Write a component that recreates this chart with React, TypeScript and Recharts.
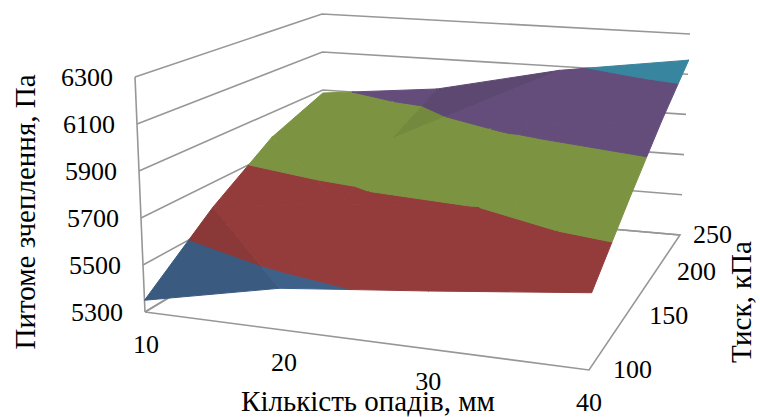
import React from "react";
import { ScatterChart, Scatter, XAxis, YAxis } from "recharts";

const rainfall = [10, 20, 30, 40];
const pressure = [100, 150, 200, 250];
const valueTicks = [5300, 5500, 5700, 5900, 6100, 6300];
const cohesionAt100 = [5350, 5470, 5530, 5596];
const cohesionAt150 = [5588, 5660, 5700, 5800];
const cohesionAt200 = [5778, 5820, 5925, 5995];
const cohesionAt250 = [5884, 5945, 6080, 6170];
const rows = [cohesionAt100, cohesionAt150, cohesionAt200, cohesionAt250];
const bandColors = ["#3e618a", "#943c3c", "#7c9342", "#644d7b", "#37859e"];

type P = [number, number];
const floorQuad: P[] = [[145, 312], [589, 370], [680, 235], [324, 204]];
const topQuad: P[] = [[135, 77], [598, 109], [690, 34], [322, 14]];

function homography(q: P[]) {
  const [[x0, y0], [x1, y1], [x2, y2], [x3, y3]] = q;
  const dx1 = x1 - x2, dx2 = x3 - x2, sx = x0 - x1 + x2 - x3;
  const dy1 = y1 - y2, dy2 = y3 - y2, sy = y0 - y1 + y2 - y3;
  const den = dx1 * dy2 - dx2 * dy1;
  const g = (sx * dy2 - dx2 * sy) / den;
  const h = (dx1 * sy - sx * dy1) / den;
  const a = x1 - x0 + g * x1, b = x3 - x0 + h * x3;
  const d = y1 - y0 + g * y1, e = y3 - y0 + h * y3;
  return (u: number, v: number): P => {
    const n = g * u + h * v + 1;
    return [(a * u + b * v + x0) / n, (d * u + e * v + y0) / n];
  };
}
const floorH = homography(floorQuad);
const topH = homography(topQuad);

const uOf = (r: number) => (r - 10) / 30;
const vOf = (p: number) => (p - 100) / 150;
const wOf = (c: number) => (c - 5300) / 1000;
function project(r: number, p: number, c: number) {
  const [fx, fy] = floorH(uOf(r), vOf(p));
  const [tx, ty] = topH(uOf(r), vOf(p));
  const w = wOf(c);
  return { x: fx + (tx - fx) * w, y: fy + (ty - fy) * w };
}

type V = { r: number; p: number; c: number };
function clip(poly: V[], level: number, keepAbove: boolean): V[] {
  const out: V[] = [];
  for (let i = 0; i < poly.length; i++) {
    const a = poly[i], b = poly[(i + 1) % poly.length];
    const ia = keepAbove ? a.c >= level : a.c <= level;
    const ib = keepAbove ? b.c >= level : b.c <= level;
    if (ia) out.push(a);
    if (ia !== ib) {
      const t = (level - a.c) / (b.c - a.c);
      out.push({ r: a.r + (b.r - a.r) * t, p: a.p + (b.p - a.p) * t, c: level });
    }
  }
  return out;
}
function shadeColor(hex: string, f: number) {
  const n = parseInt(hex.slice(1), 16);
  const ch = [(n >> 16) & 255, (n >> 8) & 255, n & 255].map((x) => Math.round(x * f));
  return `rgb(${ch[0]},${ch[1]},${ch[2]})`;
}

const patches: { pts: { x: number; y: number }[]; color: string }[] = [];
for (let j = pressure.length - 2; j >= 0; j--) {
  for (let i = 0; i < rainfall.length - 1; i++) {
    const vx = (ii: number, jj: number): V => ({ r: rainfall[ii], p: pressure[jj], c: rows[jj][ii] });
    const a = vx(i, j), b = vx(i + 1, j), c = vx(i + 1, j + 1), d = vx(i, j + 1);
    const tris = a.c + c.c >= b.c + d.c ? [[a, c, d], [a, b, c]] : [[a, b, d], [b, c, d]];
    for (const tri of tris) {
      // change of value across one rainfall step on this triangle's plane
      const [t0, t1, t2] = tri;
      const r1 = (t1.r - t0.r) / 10, p1 = (t1.p - t0.p) / 50, r2 = (t2.r - t0.r) / 10, p2 = (t2.p - t0.p) / 50;
      const dc1 = t1.c - t0.c, dc2 = t2.c - t0.c;
      const gradR = (dc1 * p2 - dc2 * p1) / (r1 * p2 - r2 * p1);
      const shade = gradR > 118 ? 0.93 : 1;
      for (let k = 0; k < valueTicks.length - 1; k++) {
        let poly = clip(tri, valueTicks[k], true);
        if (poly.length) poly = clip(poly, valueTicks[k + 1], false);
        if (poly.length < 3) continue;
        const pts = poly.map((q) => project(q.r, q.p, q.c));
        patches.push({ pts: [...pts, pts[0]], color: shadeColor(bandColors[k], shade) });
      }
    }
  }
}

const wallLines = valueTicks.map((c) => [
  project(10, 100, c),
  project(10, 250, c),
  project(40, 250, c),
]);
const floorEdges = [
  project(10, 100, 5300),
  project(40, 100, 5300),
  project(40, 250, 5300),
  project(10, 250, 5300),
  project(10, 100, 5300),
];
const frontPost = [project(10, 100, 5300), project(10, 100, 6300)];
const gridLines = [...wallLines, floorEdges, frontPost];

const FONT = "'Liberation Serif', 'Times New Roman', serif";
const FS = 26;
const TITLE_FS = 29;
const hidden = () => null;
const textShape =
  (labels: (string | number)[], dx: (i: number) => number, dy: number, anchor: "middle" | "end" | "start") =>
  (props: any) => {
    const i = props.index ?? 0;
    return (
      <text x={props.cx + dx(i)} y={props.cy + dy} textAnchor={anchor} fontFamily={FONT} fontSize={FS} fill="#000">
        {labels[i]}
      </text>
    );
  };
const pressureDx = [24, 24, 22, 13];
const rainDx = [1, 5, 2, 0];

export default function App() {
  return (
    <div style={{ position: "absolute", left: 0, top: 0, width: 760, height: 417, background: "#fff" }}>
      <ScatterChart width={760} height={417} margin={{ top: 0, right: 0, bottom: 0, left: 0 }}>
        <XAxis type="number" dataKey="x" domain={[0, 760]} hide />
        <YAxis type="number" dataKey="y" domain={[0, 417]} reversed hide />
        {gridLines.map((pts, i) => (
          <Scatter key={`g${i}`} data={pts} isAnimationActive={false} shape={hidden}
            line={{ stroke: "#979797", strokeWidth: 1.6, fill: "none" }} />
        ))}
        {patches.map((pt, i) => (
          <Scatter key={`p${i}`} data={pt.pts} isAnimationActive={false} shape={hidden}
            line={{ fill: pt.color, stroke: pt.color, strokeWidth: 1 }} />
        ))}
        <Scatter data={valueTicks.map((c) => project(10, 100, c))} isAnimationActive={false}
          shape={textShape(valueTicks, () => -22, 9, "end")} />
        <Scatter data={rainfall.map((r) => project(r, 100, 5300))} isAnimationActive={false}
          shape={textShape(rainfall, (i) => rainDx[i], 41, "middle")} />
        <Scatter data={pressure.map((p) => project(40, p, 5300))} isAnimationActive={false}
          shape={textShape(pressure, (i) => pressureDx[i], 8, "start")} />
        <text x={368} y={411} textAnchor="middle" fontFamily={FONT} fontSize={TITLE_FS} fill="#000">Кількість опадів, мм</text>
        <text transform="translate(35,212) rotate(-90)" textAnchor="middle" fontFamily={FONT} fontSize={TITLE_FS} fill="#000">Питоме зчеплення, Па</text>
        <text transform="translate(751,302) rotate(-90)" textAnchor="middle" fontFamily={FONT} fontSize={TITLE_FS} fill="#000">Тиск, кПа</text>
      </ScatterChart>
    </div>
  );
}
